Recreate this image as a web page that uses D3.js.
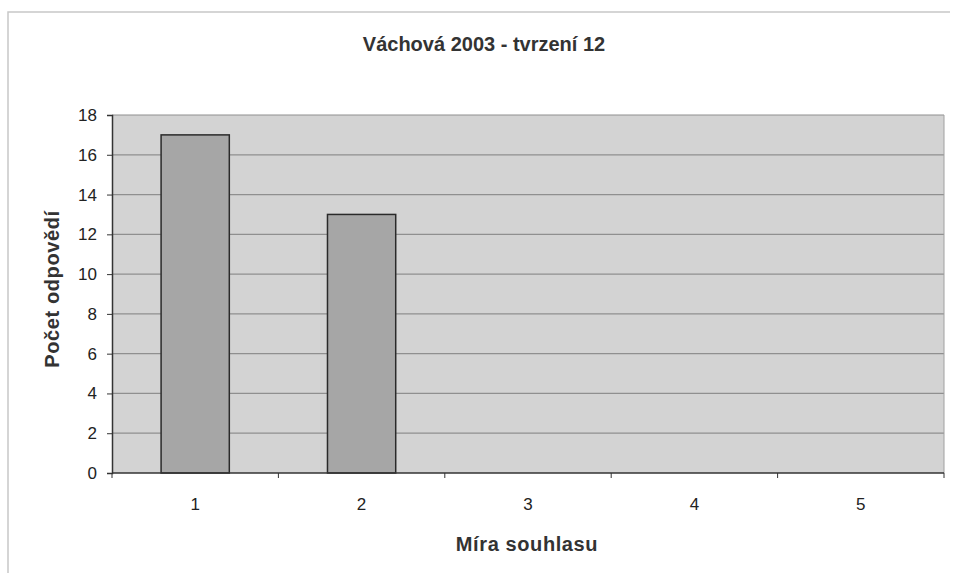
<!DOCTYPE html>
<html>
<head>
<meta charset="utf-8">
<script src="https://cdn.jsdelivr.net/npm/d3@7"></script>
<style>
  body { margin: 0; background: #fff; }
  text { font-family: "Liberation Sans", Arial, sans-serif; fill: #222; }
  .title { font-weight: bold; font-size: 20px; fill: #333; }
  .axisTitle { font-weight: bold; font-size: 20px; fill: #333; letter-spacing: 0.6px; }
  .tick text { font-size: 17px; fill: #222; }
</style>
</head>
<body>
<div id="chart"></div>
<script>
// data
const categories = ["1", "2", "3", "4", "5"];
const values = [17, 13, 0, 0, 0];
const yTicks = [0, 2, 4, 6, 8, 10, 12, 14, 16, 18];

const width = 954, height = 581;
const margin = { top: 115, right: 10, bottom: 108, left: 112 };

const svg = d3.select("#chart").append("svg")
  .attr("width", width)
  .attr("height", height);

// outer frame (faint, scanned look)
svg.append("path")
  .attr("d", `M8,${height - 8} V12 H${width - 4}`)
  .attr("fill", "none")
  .attr("stroke", "#c8c8c8")
  .attr("stroke-width", 1.5);

let x = d3.scaleBand()
  .domain(categories)
  .range([margin.left, width - margin.right])
  .paddingInner(0.59)
  .paddingOuter(0.295);

let y = d3.scaleLinear()
  .domain([0, 18])
  .range([height - margin.bottom, margin.top]);

// plot background
svg.append("rect")
  .attr("x", margin.left)
  .attr("y", margin.top)
  .attr("width", width - margin.right - margin.left)
  .attr("height", y(0) - y(18))
  .attr("fill", "#d3d3d3");

// gridlines
svg.append("g")
  .selectAll("line")
  .data(yTicks.filter(d => d > 0))
  .enter()
  .append("line")
  .attr("x1", margin.left)
  .attr("x2", width - margin.right)
  .attr("y1", d => y(d))
  .attr("y2", d => y(d))
  .attr("stroke", "#8f8f8f")
  .attr("stroke-width", 1.2);

// right edge of plot
svg.append("line")
  .attr("x1", width - margin.right).attr("x2", width - margin.right)
  .attr("y1", y(18)).attr("y2", y(0))
  .attr("stroke", "#a0a0a0");

// bars
svg.selectAll("rect.bar")
  .data(values.map((v, i) => ({ cat: categories[i], value: v })).filter(d => d.value > 0))
  .enter()
  .append("rect")
  .attr("class", "bar")
  .attr("x", d => x(d.cat))
  .attr("width", x.bandwidth())
  .attr("y", d => y(d.value))
  .attr("height", d => y(0) - y(d.value))
  .attr("fill", "#a6a6a6")
  .attr("stroke", "#2a2a2a")
  .attr("stroke-width", 1.5);

// y axis
let yAxis = d3.axisLeft(y)
  .tickValues(yTicks)
  .tickSize(5)
  .tickPadding(10);

svg.append("g")
  .attr("transform", `translate(${margin.left},0)`)
  .call(yAxis)
  .call(g => g.select(".domain").attr("stroke", "#333").attr("stroke-width", 1.5))
  .call(g => g.selectAll(".tick line").attr("stroke", "#333"))
  .call(g => g.selectAll(".tick text").attr("font-size", null).attr("font-family", null));

// x axis: ticks at category boundaries
const step = x.step();
const boundaries = d3.range(categories.length + 1).map(i => margin.left + i * step);

const xg = svg.append("g");
xg.append("line")
  .attr("x1", margin.left).attr("x2", width - margin.right)
  .attr("y1", y(0)).attr("y2", y(0))
  .attr("stroke", "#333").attr("stroke-width", 1.5);
xg.selectAll("line.tk")
  .data(boundaries)
  .enter()
  .append("line")
  .attr("class", "tk")
  .attr("x1", d => d).attr("x2", d => d)
  .attr("y1", y(0)).attr("y2", y(0) + 5)
  .attr("stroke", "#333");
xg.selectAll("text")
  .data(categories)
  .enter()
  .append("text")
  .attr("x", d => x(d) + x.bandwidth() / 2)
  .attr("y", y(0) + 37)
  .attr("text-anchor", "middle")
  .style("font-size", "17px")
  .text(d => d);

// titles
svg.append("text")
  .attr("class", "title")
  .attr("x", 484)
  .attr("y", 51)
  .attr("text-anchor", "middle")
  .text("Váchová 2003 - tvrzení 12");

svg.append("text")
  .attr("class", "axisTitle")
  .attr("x", 527)
  .attr("y", 551)
  .attr("text-anchor", "middle")
  .text("Míra souhlasu");

svg.append("text")
  .attr("class", "axisTitle")
  .attr("transform", `translate(59, 289) rotate(-90)`)
  .attr("text-anchor", "middle")
  .text("Počet odpovědí");
</script>
</body>
</html>
